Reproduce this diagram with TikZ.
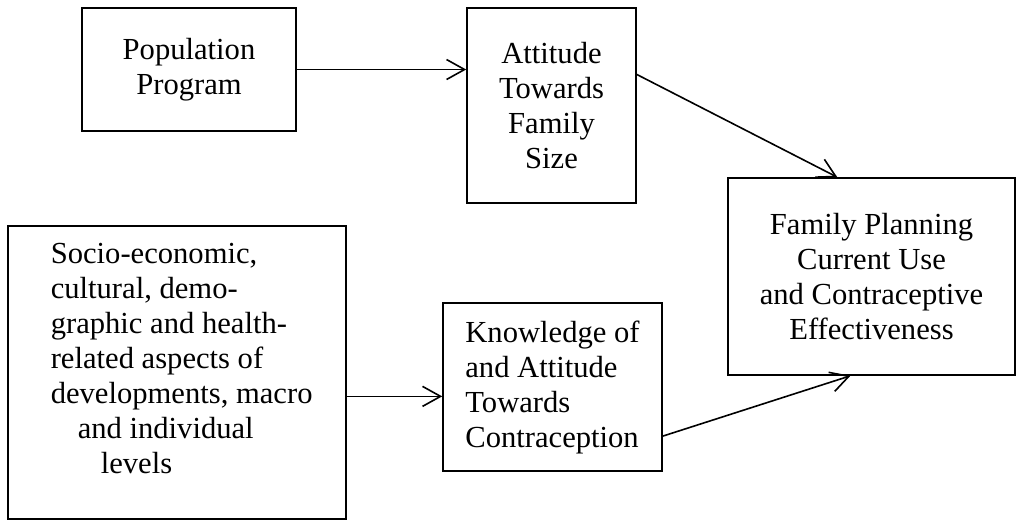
\documentclass[tikz,border=0pt]{standalone}
\usepackage{fontspec}
\setmainfont{Liberation Serif}
\usetikzlibrary{arrows.meta}

\begin{document}
\begin{tikzpicture}[x=0.5pt,y=-0.5pt,
		box/.style={draw,line width=0.8pt,inner sep=0pt,font=\fontsize{15.3}{17.5}\selectfont},
		link/.style={line width=0.8pt,-{Straight Barb[length=9pt,width=10pt]}}]
	\useasboundingbox (0,0) rectangle (1018,521);

			% top row
			\node[box,align=center,minimum width=107pt,minimum height=61.5pt] (pop) at(189,69.5){Population\\Program};
			\node[box,align=center,minimum width=84.5pt,minimum height=97.5pt] (att) at(551.5,105.5){Attitude\\Towards\\Family\\Size};

			% outcome
			\node[box,align=center,minimum width=143.5pt,minimum height=98.5pt] (fp) at(871.5,276.5){Family Planning\\Current Use\\and Contraceptive\\Effectiveness};

			% bottom row
			\node[box,minimum width=169pt,minimum height=146.5pt] (soc) at(177,372.5){};
				\node[box,draw=none,align=left,anchor=north west] (soctext) at(50,242){Socio-economic,\\cultural, demo-\\graphic and health-\\related aspects of\\developments, macro\\\hspace*{13.5pt}and individual\\\hspace*{25pt}levels};
			\node[box,align=left,minimum width=109.5pt,minimum height=84pt] (kno) at(552.5,387){Knowledge of\\and Attitude\\Towards\\Contraception};

			\draw[link] (pop.east) to (pop.east -| att.west);
			\draw[link] (att.20) to (fp.109);
			\draw[link] (soc.-8.6) to (soc.-8.6 -| kno.west);
			\draw[link] (kno.-24.5) to (fp.-102.3);

		\end{tikzpicture}
\end{document}
